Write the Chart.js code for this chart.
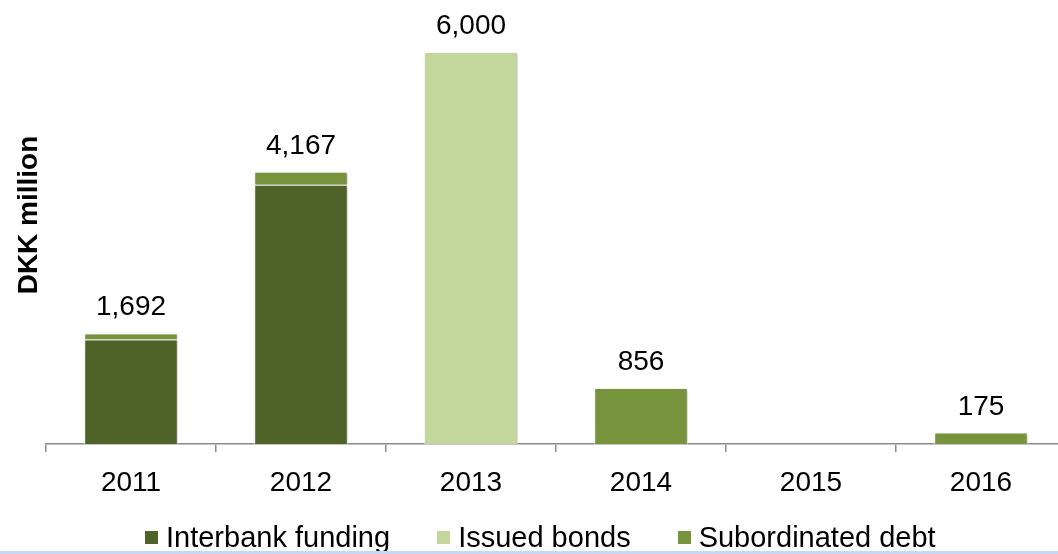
<!DOCTYPE html>
<html>
<head>
<meta charset="utf-8">
<script src="https://cdn.jsdelivr.net/npm/chart.js@4"></script>
<style>
  html, body { margin: 0; padding: 0; background: #fff; }
  #wrap { position: relative; width: 1058px; height: 554px; overflow: hidden; }
  #box { position: absolute; left: 0; top: 0; width: 1068px; height: 554px; }
  #legend {
    position: absolute; left: 145px; top: 523px;
    display: flex; align-items: center;
    font-family: "Liberation Sans", Arial, sans-serif; font-size: 29px; line-height: 29px; color: #000;
  }
  #legend .item { display: flex; align-items: center; margin-right: 47px; white-space: nowrap; }
  #legend .sw { width: 13px; height: 13px; margin-right: 8px; }
  #strip { position: absolute; left: 0; bottom: 0; width: 100%; height: 3px; background: #c6d9f0; z-index: 2; }
</style>
</head>
<body>
<div id="wrap">
  <div id="box"><canvas id="fundingChart" width="1068" height="554"></canvas></div>
  <div id="legend"></div>
  <div id="strip"></div>
</div>
<script>
const years = ['2011', '2012', '2013', '2014', '2015', '2016'];
const interbankFunding = [1600, 3967, null, null, null, null];
const issuedBonds = [null, null, 6000, null, null, null];
const subordinatedDebt = [92, 200, null, 856, null, 175];

const seriesNames = ['Interbank funding', 'Issued bonds', 'Subordinated debt'];
const seriesColors = ['#4f6228', '#c3d69b', '#77933c'];

const FONT = '"Liberation Sans", Arial, sans-serif';

// soft shadow behind the bars
const barShadow = {
  id: 'barShadow',
  beforeDatasetsDraw(chart) {
    const ctx = chart.ctx;
    ctx.save();
    ctx.shadowColor = 'rgba(0,0,0,0.25)';
    ctx.shadowBlur = 3;
    ctx.shadowOffsetX = 1;
    ctx.shadowOffsetY = 1;
  },
  afterDatasetsDraw(chart) {
    chart.ctx.restore();
  }
};

// stack totals above each column, plus the rotated axis title
const totalsAndTitle = {
  id: 'totalsAndTitle',
  afterDraw(chart) {
    const ctx = chart.ctx;
    const xs = chart.scales.x;
    const ys = chart.scales.y;
    ctx.save();
    ctx.fillStyle = '#000';
    ctx.font = '28px ' + FONT;
    ctx.textAlign = 'center';
    ctx.textBaseline = 'alphabetic';
    years.forEach((y, i) => {
      let total = 0;
      chart.data.datasets.forEach(ds => { total += ds.data[i] || 0; });
      if (!total) return;
      const px = xs.getPixelForValue(i);
      const py = ys.getPixelForValue(total);
      ctx.fillText(total.toLocaleString('en-US'), px, py - 18);
    });

    ctx.font = 'bold 28px ' + FONT;
    ctx.translate(37, 215);
    ctx.rotate(-Math.PI / 2);
    ctx.fillText('DKK million', 0, 0);
    ctx.restore();
  }
};

const datasets = [interbankFunding, issuedBonds, subordinatedDebt].map((vals, k) => ({
  label: seriesNames[k],
  data: vals,
  backgroundColor: seriesColors[k],
  borderColor: '#ffffff',
  borderWidth: 1,
  barPercentage: 0.55,
  categoryPercentage: 1
}));

new Chart(document.getElementById('fundingChart'), {
  type: 'bar',
  data: { labels: years, datasets: datasets },
  options: {
    responsive: false,
    animation: false,
    layout: { padding: { left: 46, right: 2, top: 52, bottom: 30 } },
    plugins: { legend: { display: false }, tooltip: { enabled: false } },
    scales: {
      x: {
        stacked: true,
        afterFit: s => { s.height = 80; },
        grid: {
          display: true, drawOnChartArea: false, drawTicks: true,
          tickLength: 8, color: '#8c8c8c', lineWidth: 1.5, offset: true
        },
        border: { display: true, color: '#8c8c8c', width: 1.5 },
        ticks: { color: '#000', font: { family: FONT, size: 28 }, padding: 14 }
      },
      y: {
        stacked: true,
        display: false,
        min: 0,
        max: 6000
      }
    }
  },
  plugins: [barShadow, totalsAndTitle]
});

// legend row
const legend = document.getElementById('legend');
seriesNames.forEach((name, k) => {
  const item = document.createElement('div');
  item.className = 'item';
  const sw = document.createElement('span');
  sw.className = 'sw';
  sw.style.background = seriesColors[k];
  const txt = document.createElement('span');
  txt.textContent = name;
  item.appendChild(sw);
  item.appendChild(txt);
  legend.appendChild(item);
});
</script>
</body>
</html>
